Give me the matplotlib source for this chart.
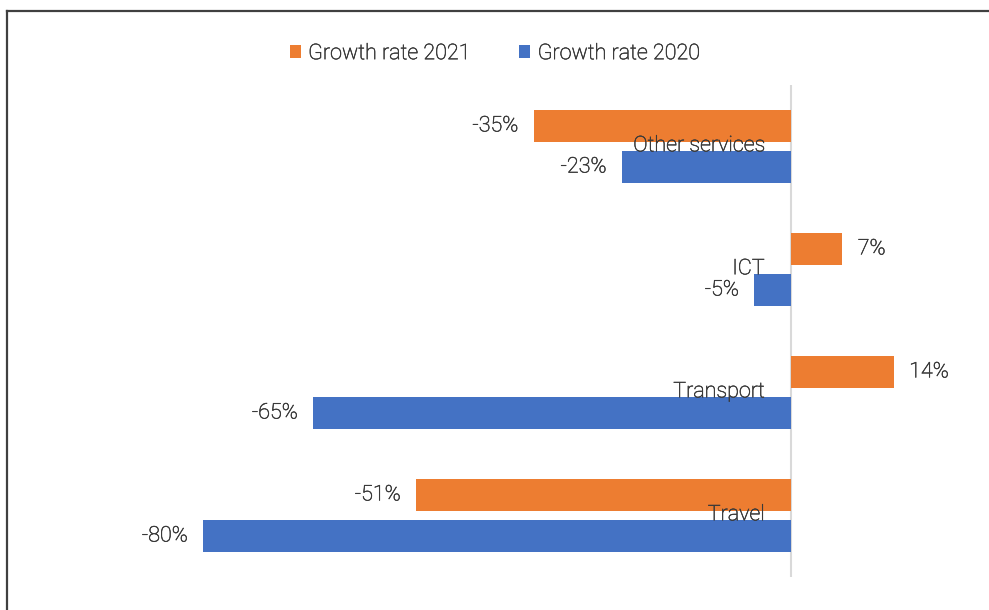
import numpy as np
import matplotlib
matplotlib.use("Agg")
import matplotlib.pyplot as plt
import matplotlib.patheffects as pe
from matplotlib.lines import Line2D

plt.rcParams['font.family'] = ['Roboto', 'DejaVu Sans']
plt.rcParams['font.weight'] = 'light'

categories = ['Travel', 'Transport', 'ICT', 'Other services']
growth_2021 = [-51, 14, 7, -35]
growth_2020 = [-80, -65, -5, -23]

orange = '#ED7D31'
blue = '#4472C4'
text_col = '#3a3a3a'
fs = 15.5
# light weight renders too faint, so give the glyphs a thin outline
ink = [pe.withStroke(linewidth=0.4, foreground=text_col)]

fig = plt.figure(figsize=(9.89, 6.10), dpi=100)
ax = fig.add_axes([0.1309, 0.0541, 0.8547, 0.8066])

y = np.arange(len(categories))
h = 0.26
off = 0.167

b21 = ax.barh(y + off, growth_2021, height=h, color=orange, label='Growth rate 2021')
b20 = ax.barh(y - off, growth_2020, height=h, color=blue, label='Growth rate 2020')

for bars in (b21, b20):
    for t in ax.bar_label(bars, fmt='{:.0f}%', padding=11, fontsize=fs, color=text_col):
        t.set_path_effects(ink)

# category names sit next to the zero axis, on top of the bars
for yi, name in zip(y, categories):
    ax.annotate(name, xy=(0, yi), xytext=(-19, 0.5), textcoords='offset points',
                ha='right', va='center', fontsize=fs, color=text_col, path_effects=ink)

ax.axvline(0, color='#d9d9d9', lw=1.5, zorder=0)
ax.set_xlim(-90, 25)
ax.set_ylim(-0.5, 3.5)
ax.set_xticks([])
ax.set_yticks([])
for s in ax.spines.values():
    s.set_visible(False)

leg = fig.legend(handles=[b21, b20], loc='center', bbox_to_anchor=(0.5, 0.912), ncol=2,
                 frameon=False, fontsize=fs, handlelength=0.5, handleheight=0.5,
                 handletextpad=0.35, columnspacing=2.3, labelcolor=text_col)
for t in leg.get_texts():
    t.set_path_effects(ink)

# outer frame: top and left edges only
fig.add_artist(Line2D([0.0075, 1.0], [1 - 11 / 610, 1 - 11 / 610], color='#404040', lw=1.6,
                      transform=fig.transFigure))
fig.add_artist(Line2D([0.0075, 0.0075], [0.0, 1 - 11 / 610], color='#404040', lw=1.6,
                      transform=fig.transFigure))

fig.savefig('out.png', dpi=100)
